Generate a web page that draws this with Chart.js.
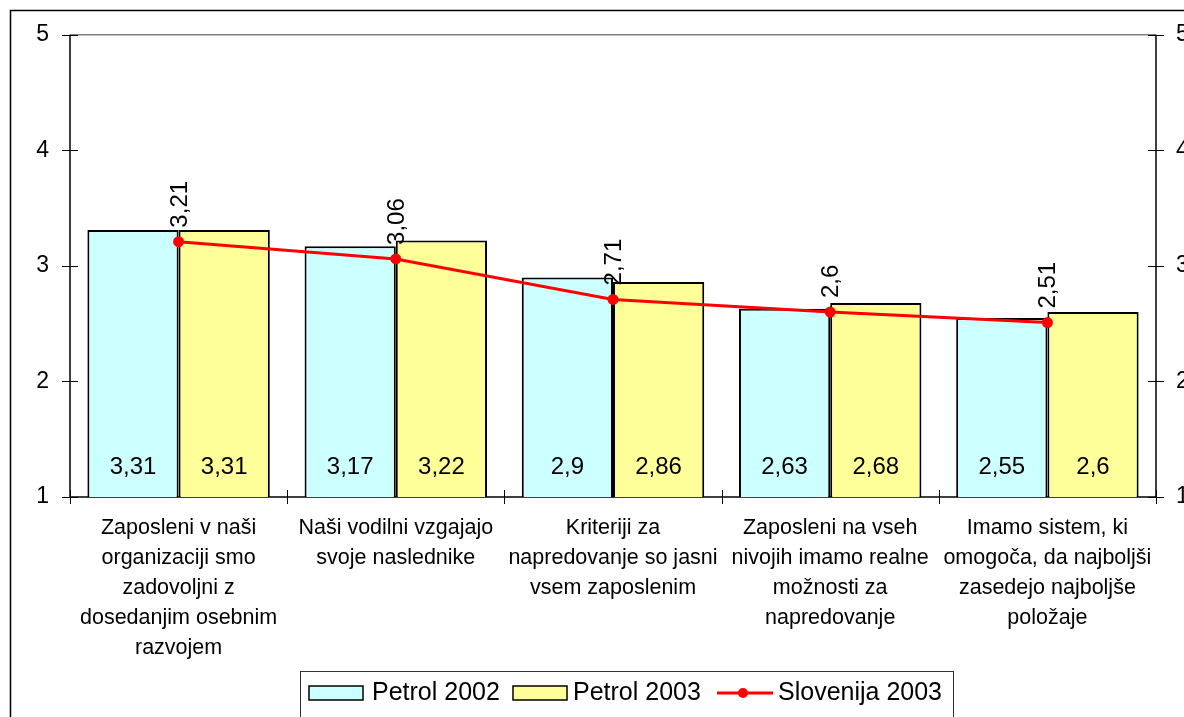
<!DOCTYPE html>
<html>
<head>
<meta charset="utf-8">
<script src="https://cdn.jsdelivr.net/npm/chart.js@4/dist/chart.umd.min.js"></script>
<style>
  html, body { margin: 0; padding: 0; background: #fff; overflow: hidden; }
  #wrap { width: 1184px; height: 717px; position: relative; }
</style>
</head>
<body>
<div id="wrap"><canvas id="c" width="1184" height="717"></canvas></div>
<script>
// Survey statements (category axis, multi-line)
const categories = [
  ['Zaposleni v naši', 'organizaciji smo', 'zadovoljni z', 'dosedanjim osebnim', 'razvojem'],
  ['Naši vodilni vzgajajo', 'svoje naslednike'],
  ['Kriteriji za', 'napredovanje so jasni', 'vsem zaposlenim'],
  ['Zaposleni na vseh', 'nivojih imamo realne', 'možnosti za', 'napredovanje'],
  ['Imamo sistem, ki', 'omogoča, da najboljši', 'zasedejo najboljše', 'položaje']
];
const petrol2002 = [3.31, 3.17, 2.9, 2.63, 2.55];
const petrol2003 = [3.31, 3.22, 2.86, 2.68, 2.6];
const slovenija2003 = [3.21, 3.06, 2.71, 2.6, 2.51];
const seriesNames = ['Petrol 2002', 'Petrol 2003', 'Slovenija 2003'];
const yTicks = [1, 2, 3, 4, 5];

const FONT = "'Liberation Sans', Arial, sans-serif";
const fmt = v => String(v).replace('.', ',');

// Axis lines, tick marks crossing the axes, top gridline, labels, legend, frame
const framePlugin = {
  id: 'frame',
  beforeDatasetsDraw(chart) {
    const ctx = chart.ctx;
    const a = chart.chartArea;
    const y = chart.scales.y;
    ctx.save();
    // top gridline (value 5)
    ctx.strokeStyle = '#808080';
    ctx.lineWidth = 1.5;
    ctx.beginPath();
    ctx.moveTo(a.left, y.getPixelForValue(5));
    ctx.lineTo(a.right, y.getPixelForValue(5));
    ctx.stroke();
    // axes
    ctx.strokeStyle = '#000';
    ctx.lineWidth = 1.5;
    ctx.beginPath();
    ctx.moveTo(a.left, a.top); ctx.lineTo(a.left, a.bottom);
    ctx.moveTo(a.right, a.top); ctx.lineTo(a.right, a.bottom);
    ctx.moveTo(a.left, a.bottom); ctx.lineTo(a.right, a.bottom);
    ctx.stroke();
    // value ticks on both vertical axes
    ctx.lineWidth = 1;
    ctx.beginPath();
    yTicks.forEach(t => {
      const py = Math.round(y.getPixelForValue(t)) + 0.5;
      ctx.moveTo(a.left - 8, py); ctx.lineTo(a.left + 8, py);
      ctx.moveTo(a.right - 8, py); ctx.lineTo(a.right + 8, py);
    });
    // category boundary ticks
    const n = categories.length;
    const w = (a.right - a.left) / n;
    for (let i = 0; i <= n; i++) {
      const px = Math.round(a.left + i * w) + 0.5;
      ctx.moveTo(px, a.bottom - 7); ctx.lineTo(px, a.bottom + 7);
    }
    ctx.stroke();
    ctx.restore();
  },
  afterDraw(chart) {
    const ctx = chart.ctx;
    const y = chart.scales.y;
    ctx.save();
    ctx.fillStyle = '#000';
    ctx.font = '24px ' + FONT;

    // bar values near the base of each bar
    [0, 1].forEach(di => {
      const meta = chart.getDatasetMeta(di);
      const data = chart.data.datasets[di].data;
      meta.data.forEach((el, i) => {
        ctx.textAlign = 'center';
        ctx.textBaseline = 'middle';
        ctx.fillText(fmt(data[i]), el.x, y.getPixelForValue(1) - 30);
      });
    });

    // line values, rotated, above each point
    const lm = chart.getDatasetMeta(2);
    const ld = chart.data.datasets[2].data;
    lm.data.forEach((el, i) => {
      ctx.save();
      ctx.translate(el.x + 8, el.y - 14);
      ctx.rotate(-Math.PI / 2);
      ctx.textAlign = 'left';
      ctx.textBaseline = 'alphabetic';
      ctx.fillText(fmt(ld[i]), 0, 0);
      ctx.restore();
    });

    // legend box
    const ds = chart.data.datasets;
    const lx = 300, ly = 671;
    ctx.strokeStyle = '#333';
    ctx.lineWidth = 1;
    ctx.strokeRect(lx + 0.5, ly + 0.5, 653, 80);
    const cy = 693;
    ctx.textAlign = 'left';
    ctx.textBaseline = 'middle';
    ctx.font = '25px ' + FONT;
    // bar swatches
    ctx.strokeStyle = '#000';
    ctx.lineWidth = 1.5;
    ctx.fillStyle = ds[0].backgroundColor;
    ctx.fillRect(309, cy - 7, 54, 14);
    ctx.strokeRect(309, cy - 7, 54, 14);
    ctx.fillStyle = '#000';
    ctx.fillText(ds[0].label, 372, cy);
    ctx.fillStyle = ds[1].backgroundColor;
    ctx.fillRect(513, cy - 7, 54, 14);
    ctx.strokeRect(513, cy - 7, 54, 14);
    ctx.fillStyle = '#000';
    ctx.fillText(ds[1].label, 573, cy);
    // line swatch
    ctx.strokeStyle = ds[2].borderColor;
    ctx.lineWidth = 3;
    ctx.beginPath();
    ctx.moveTo(717, cy); ctx.lineTo(773, cy);
    ctx.stroke();
    ctx.fillStyle = ds[2].borderColor;
    ctx.beginPath();
    ctx.arc(743, cy, 5, 0, Math.PI * 2);
    ctx.fill();
    ctx.fillStyle = '#000';
    ctx.fillText(ds[2].label, 778, cy);

    // outer chart border
    ctx.strokeStyle = '#000';
    ctx.lineWidth = 1.5;
    ctx.strokeRect(10.5, 10.5, 2000, 2000);
    ctx.restore();
  }
};

new Chart(document.getElementById('c'), {
  data: {
    labels: categories,
    datasets: [
      {
        type: 'bar', label: seriesNames[0], data: petrol2002, base: 1,
        backgroundColor: '#CCFFFF', borderColor: '#000', borderWidth: 2,
        categoryPercentage: 0.84, barPercentage: 1.0, order: 1
      },
      {
        type: 'bar', label: seriesNames[1], data: petrol2003, base: 1,
        backgroundColor: '#FFFF99', borderColor: '#000', borderWidth: 2,
        categoryPercentage: 0.84, barPercentage: 1.0, order: 1
      },
      {
        type: 'line', label: seriesNames[2], data: slovenija2003,
        borderColor: '#FF0000', backgroundColor: '#FF0000', borderWidth: 3,
        pointRadius: 5.5, pointBackgroundColor: '#FF0000', pointBorderWidth: 0,
        tension: 0, order: 0
      }
    ]
  },
  options: {
    responsive: false,
    animation: false,
    devicePixelRatio: 1,
    layout: { padding: { top: 32, left: 0, right: 0, bottom: 0 } },
    plugins: { legend: { display: false }, tooltip: { enabled: false } },
    scales: {
      x: {
        type: 'category', offset: true,
        grid: { display: false, drawTicks: false }, border: { display: false },
        ticks: {
          color: '#000', font: { family: FONT, size: 21.5, lineHeight: '30px' },
          padding: 16, maxRotation: 0, autoSkip: false
        },
        afterFit(s) { s.height = 220; }
      },
      y: {
        position: 'left', min: 1, max: 5,
        grid: { display: false, drawTicks: false }, border: { display: false },
        ticks: { color: '#000', font: { family: FONT, size: 23 }, padding: 21 },
        afterBuildTicks(s) { s.ticks = yTicks.map(v => ({ value: v })); },
        afterFit(s) { s.width = 70; }
      },
      y2: {
        position: 'right', min: 1, max: 5,
        grid: { display: false, drawTicks: false }, border: { display: false },
        ticks: { color: '#000', font: { family: FONT, size: 23 }, padding: 20 },
        afterBuildTicks(s) { s.ticks = yTicks.map(v => ({ value: v })); },
        afterFit(s) { s.width = 28; }
      }
    }
  },
  plugins: [framePlugin]
});
</script>
</body>
</html>
